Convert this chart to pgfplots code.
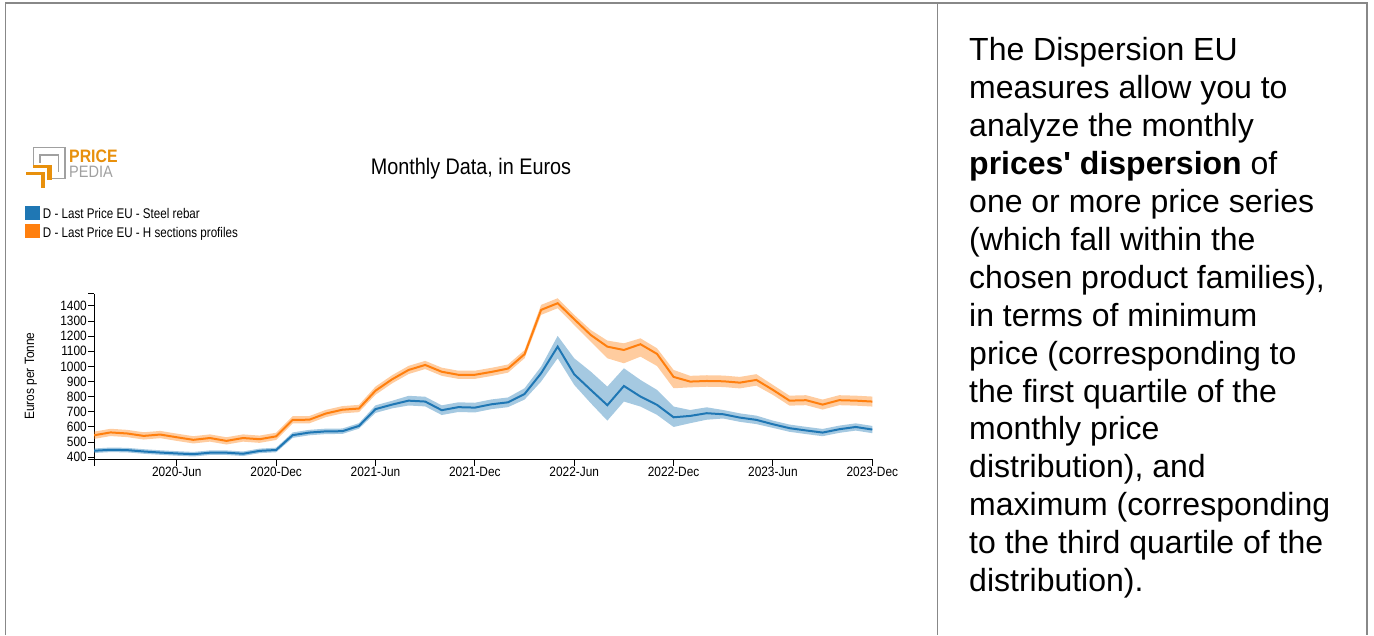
\documentclass[border=0pt]{standalone}
\usepackage{fontspec}
\setmainfont{Liberation Sans}
\newfontfamily\cond[FakeStretch=0.88]{Liberation Sans}
\newfontfamily\condL[FakeStretch=0.83]{Liberation Sans}
\usepackage{pgfplots}
\usepackage{pgfplotstable}
\pgfplotsset{compat=1.18}
\usepgfplotslibrary{fillbetween}
\definecolor{cblue}{HTML}{1F77B4}
\definecolor{corange}{HTML}{FF7F0E}
\definecolor{framegray}{HTML}{888888}
\definecolor{logoorange}{HTML}{E8900C}
\definecolor{logogray}{HTML}{A0A0A0}

\pgfplotstableread{
x mid lo hi
0 443 428 458
1 449 434 464
2 447 432 462
3 438 423 453
4 431 416 446
5 425 410 440
6 420 405 435
7 430 415 445
8 430 415 445
9 423 408 438
10 442 427 457
11 448 433 463
12 546 528 564
13 563 545 581
14 571 553 589
15 572 554 590
16 607 589 625
17 718 693 743
18 748 723 773
19 774 742 806
20 768 736 800
21 711 679 743
22 731 699 763
23 728 696 760
24 750 718 782
25 763 731 795
26 818 781 856
27 955 900 999
28 1131 1054 1202
29 948 878 1054
30 845 757 966
31 744 642 867
32 871 768 988
33 801 735 911
34 746 680 845
35 664 600 735
36 673 625 712
37 691 648 730
38 684 656 712
39 662 634 690
40 647 619 675
41 618 594 642
42 592 568 616
43 577 553 601
44 563 539 587
45 585 561 609
46 600 576 624
47 583 559 607
}\bluedata

\pgfplotstableread{
x mid lo hi
0 545 521 569
1 564 540 588
2 557 533 581
3 541 517 565
4 550 526 574
5 532 508 556
6 515 491 539
7 527 503 551
8 508 484 532
9 527 503 551
10 519 495 543
11 538 514 562
12 647 623 671
13 648 624 672
14 689 665 713
15 714 690 738
16 722 698 746
17 840 813 867
18 915 888 942
19 977 950 1004
20 1010 983 1037
21 965 938 992
22 945 918 972
23 945 918 972
24 964 937 991
25 986 959 1013
26 1081 1054 1108
27 1374 1341 1407
28 1418 1385 1451
29 1312 1274 1341
30 1208 1164 1241
31 1131 1054 1171
32 1109 1021 1153
33 1147 1065 1186
34 1083 1003 1120
35 931 856 977
36 900 862 938
37 904 866 942
38 902 864 940
39 893 855 931
40 911 873 949
41 845 812 878
42 774 741 807
43 777 744 810
44 748 715 781
45 777 744 810
46 774 741 807
47 768 735 801
}\orangedata

\begin{document}
\begin{tikzpicture}
\path (0,0) rectangle (1374pt,-635pt);

% frame
\draw[framegray, line width=1.6pt] (5.3pt,-635pt) -- (5.3pt,-3.3pt) -- (1366.7pt,-3.3pt) -- (1366.7pt,-635pt);
\draw[framegray, line width=1.6pt] (937.3pt,-3.3pt) -- (937.3pt,-635pt);

% logo
\draw[logogray, line width=1.3pt] (52pt,-178.3pt) -- (65pt,-178.3pt) -- (65pt,-147.3pt) -- (33.3pt,-147.3pt) -- (33.3pt,-165pt);
\draw[logogray, line width=1.3pt] (40pt,-163pt) -- (40pt,-155pt) -- (58.3pt,-155pt) -- (58.3pt,-171.7pt);
\fill[logoorange] (33.3pt,-165pt) rectangle (51.7pt,-168.3pt);
\fill[logoorange] (47.3pt,-165pt) rectangle (51.7pt,-180pt);
\fill[logoorange] (26pt,-171.7pt) rectangle (45pt,-175pt);
\fill[logoorange] (40.5pt,-171.7pt) rectangle (45pt,-188pt);
\node[anchor=base west, inner sep=0pt, text=logoorange, font=\cond\bfseries\fontsize{18}{20}\selectfont] at (69pt,-163pt) {PRICE};
\node[anchor=base west, inner sep=0pt, text=logogray, font=\cond\fontsize{16.5}{18}\selectfont] at (69pt,-178pt) {PEDIA};

% title
\node[anchor=base, inner sep=0pt, font=\cond\fontsize{22.5}{26}\selectfont] at (471pt,-175pt) {Monthly Data, in Euros};

% legend
\fill[cblue] (25pt,-205.7pt) rectangle (39.5pt,-220pt);
\fill[corange] (25pt,-224.3pt) rectangle (39.5pt,-238.3pt);
\node[anchor=base west, inner sep=0pt, font=\condL\fontsize{14}{16}\selectfont] at (42.7pt,-219pt) {D - Last Price EU - Steel rebar};
\node[anchor=base west, inner sep=0pt, font=\condL\fontsize{14}{16}\selectfont] at (42.7pt,-237.7pt) {D - Last Price EU - H sections profiles};

% y label
\node[rotate=90, inner sep=0pt, font=\cond\fontsize{13.5}{16}\selectfont] at (31pt,-376pt) {Euros per Tonne};

\begin{axis}[
  at={(94pt,-459.5pt)}, anchor=south west,
  width=778.3pt, height=165.5pt, scale only axis,
  xmin=0, xmax=47, ymin=385, ymax=1479,
  axis x line*=bottom, axis y line*=left,
  axis line style={-, black, line width=1pt},
  xtick={5,11,17,23,29,35,41,47},
  xticklabels={2020-Jun,2020-Dec,2021-Jun,2021-Dec,2022-Jun,2022-Dec,2023-Jun,2023-Dec},
  ytick={400,500,...,1400},
  extra x ticks={0}, extra x tick labels={},
  extra y ticks={385,1479}, extra y tick labels={,},
  tick align=outside, major tick length=6pt,
  tick style={black, line width=1pt},
  every tick label/.append style={font=\cond\fontsize{13.5}{16}\selectfont, text=black, inner sep=1pt},
  /pgf/number format/assume math mode=true,
  /pgf/number format/1000 sep={},
]
\addplot[name path=bU, draw=none, forget plot] table[x=x, y=hi] {\bluedata};
\addplot[name path=bL, draw=none, forget plot] table[x=x, y=lo] {\bluedata};
\addplot[cblue, fill opacity=0.4, draw=none, forget plot] fill between[of=bU and bL];
\addplot[name path=oU, draw=none, forget plot] table[x=x, y=hi] {\orangedata};
\addplot[name path=oL, draw=none, forget plot] table[x=x, y=lo] {\orangedata};
\addplot[corange, fill opacity=0.4, draw=none, forget plot] fill between[of=oU and oL];
\addplot[cblue, line width=2pt, mark=none] table[x=x, y=mid] {\bluedata};
\addplot[corange, line width=2pt, mark=none] table[x=x, y=mid] {\orangedata};
\end{axis}

% text panel
\begin{scope}[every node/.style={anchor=base west, inner sep=0pt, font=\fontsize{32}{38}\selectfont}]
\node at (969pt,-61pt) {The Dispersion EU};
\node at (969pt,-98.9pt) {measures allow you to};
\node at (969pt,-136.8pt) {analyze the monthly};
\node at (969pt,-174.7pt) {\textbf{prices\textquotesingle{} dispersion} of};
\node at (969pt,-212.6pt) {one or more price series};
\node at (969pt,-250.5pt) {(which fall within the};
\node at (969pt,-288.4pt) {chosen product families),};
\node at (969pt,-326.3pt) {in terms of minimum};
\node at (969pt,-364.2pt) {price (corresponding to};
\node at (969pt,-402.1pt) {the first quartile of the};
\node at (969pt,-440pt) {monthly price};
\node at (969pt,-477.9pt) {distribution), and};
\node at (969pt,-515.8pt) {maximum (corresponding};
\node at (969pt,-553.7pt) {to the third quartile of the};
\node at (969pt,-591.6pt) {distribution).};
\end{scope}
\end{tikzpicture}
\end{document}
